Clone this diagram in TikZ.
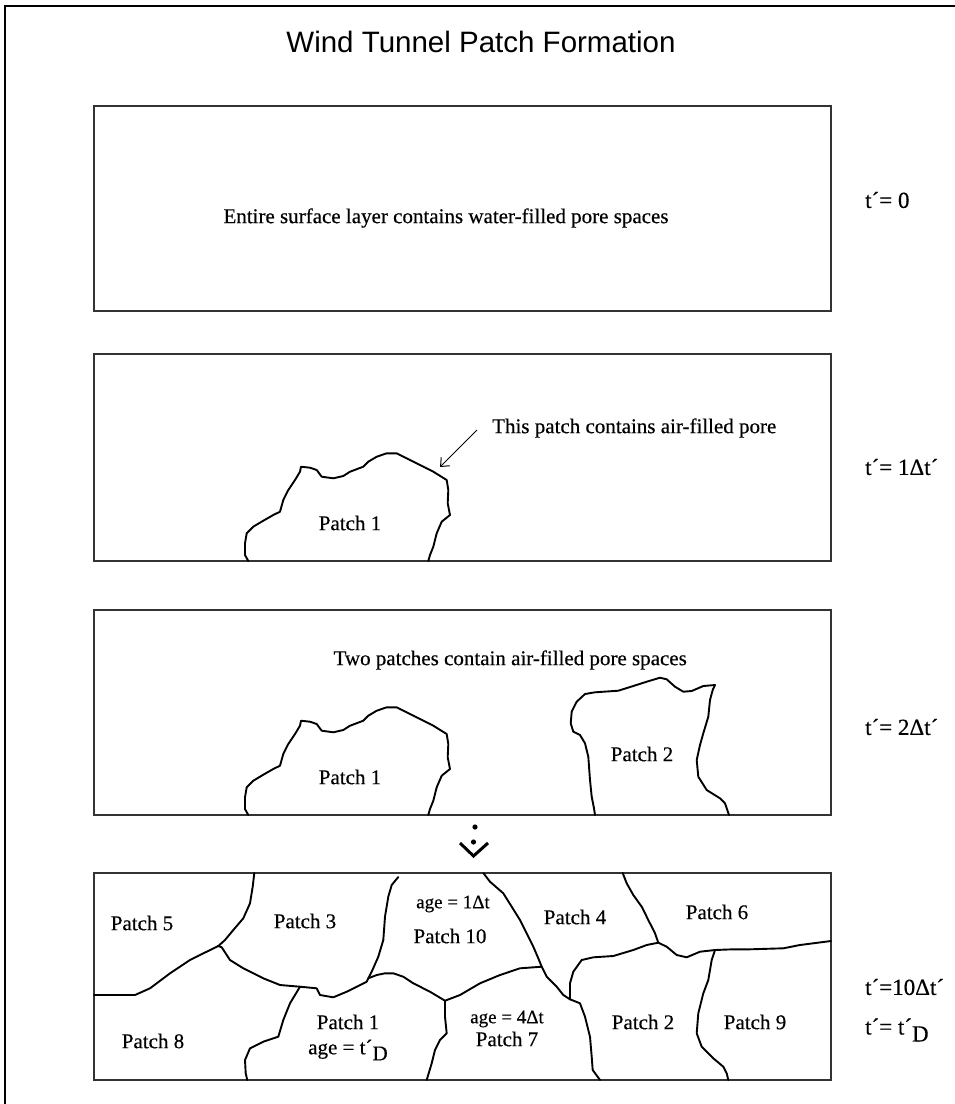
\documentclass[tikz,border=0pt]{standalone}
\usepackage{fontspec}
\setmainfont{Liberation Serif}[FakeBold=0.4]
\newfontfamily\titlefont{Liberation Sans}
\usetikzlibrary{arrows.meta}
\begin{document}
\begin{tikzpicture}[x=1pt,y=-1pt,
  panel/.style={draw=black!80, line width=1.8pt},
  edge/.style={draw=black, line width=1.9pt, line join=round, line cap=round},
  lbl/.style={font=\fontsize{21}{23}\selectfont, inner sep=0pt},
  tlbl/.style={font=\fontsize{23}{26}\selectfont, anchor=west, inner sep=0pt},
]
\useasboundingbox (0,0) rectangle (955,1104);
\draw[line width=2.5pt] (5,1104) -- (5,6) -- (955,6);
\node[font=\titlefont\fontsize{29.5}{32}\selectfont, inner sep=0pt] (title) at (481,42) {Wind Tunnel Patch Formation};

% panels
\draw[panel] (94,106) rectangle (831,311);
\draw[panel] (94,354) rectangle (831,561);
\draw[panel] (94,610) rectangle (831,815);
\draw[panel] (94,873) rectangle (831,1080);

% panel 1
\node[lbl] (p1text) at (446,218) {Entire surface layer contains water-filled pore spaces};
\node[tlbl] (t0) at (865,200) {t´= 0};

% panel 2
\draw[edge] (248.3,561) -- (245,555) -- (245,543.3) -- (246.7,533.3) -- (253.3,526.7) -- (263.3,520.7) -- (273.3,515) -- (280,511.7) -- (283.3,500) -- (288.3,490) -- (295,480) -- (300,471.7) -- (301,466.7) -- (310,467.7) -- (316.7,470) -- (321.7,476.7) -- (333.3,478.3) -- (343.3,476) -- (350,471.7) -- (363.3,466.7) -- (368.3,461.7) -- (376.7,456.7) -- (386.7,453.3) -- (396.7,453.3) -- (406.7,458.3) -- (420,465) -- (433.3,471.7) -- (446.7,480) -- (448.3,490) -- (447.7,503.3) -- (450,515) -- (441.7,521.7) -- (436.7,533.3) -- (433.3,546.7) -- (430,555) -- (428.3,561);
\node[lbl] (p2patch1) at (350,523) {Patch 1};
\node[lbl, anchor=west] (p2note) at (492,428) {This patch contains air-filled pore};
\coordinate (arrtail) at (477,430);
\coordinate (arrhead) at (440,467);
\draw[line width=1pt, -{Straight Barb[length=7pt,width=12pt]}] (arrtail) -- (arrhead);
\node[tlbl] (t1) at (865,467) {t´= 1Δt´};

% panel 3
\begin{scope}[shift={(0,254)}]
\draw[edge] (248.3,561) -- (245,555) -- (245,543.3) -- (246.7,533.3) -- (253.3,526.7) -- (263.3,520.7) -- (273.3,515) -- (280,511.7) -- (283.3,500) -- (288.3,490) -- (295,480) -- (300,471.7) -- (301,466.7) -- (310,467.7) -- (316.7,470) -- (321.7,476.7) -- (333.3,478.3) -- (343.3,476) -- (350,471.7) -- (363.3,466.7) -- (368.3,461.7) -- (376.7,456.7) -- (386.7,453.3) -- (396.7,453.3) -- (406.7,458.3) -- (420,465) -- (433.3,471.7) -- (446.7,480) -- (448.3,490) -- (447.7,503.3) -- (450,515) -- (441.7,521.7) -- (436.7,533.3) -- (433.3,546.7) -- (430,555) -- (428.3,561);
\node[lbl] (p3patch1) at (350,523) {Patch 1};
\end{scope}
\draw[edge] (595,815) -- (594,808.3) -- (591.7,796.7) -- (590,780) -- (588.3,756.7) -- (585,743.3) -- (580,735) -- (573.3,731.7) -- (570.7,723.3) -- (571.7,711.7) -- (576.7,701.7) -- (585,694) -- (595,692.3) -- (618.3,690.7) -- (633.3,686) -- (646.7,681.7) -- (660,677.7) -- (666.7,679.3) -- (675,686.7) -- (683.3,691.7) -- (691.7,691) -- (703.3,686) -- (715,685) -- (712.7,690) -- (710,700) -- (708.3,716.7) -- (703.3,733.3) -- (700,745) -- (696.7,760) -- (698.3,776.7) -- (706.7,790) -- (720,798.3) -- (725,803.3) -- (727.3,810) -- (729,815);
\node[lbl] (p3patch2) at (642,754) {Patch 2};
\node[lbl, anchor=east] (p3note) at (687,660) {Two patches contain air-filled pore spaces};
\node[tlbl] (t2) at (865,727) {t´= 2Δt´};

% down symbol
\fill (475,827) circle (2.6pt);
\fill (473.5,842) circle (2.6pt);
\draw[line width=3pt] (460,843) -- (473.5,856) -- (488,843);

% panel 4
\draw[edge] (94,995) -- (110,995) -- (135,995) -- (150,988.3) -- (170,973.3) -- (190,960) -- (206.7,951.7) -- (218.3,946);
\draw[edge] (218.3,946) -- (225,940) -- (233.3,930) -- (243.3,918.3) -- (250,903.3) -- (252.7,886.7) -- (254.3,873);
\draw[edge] (218.3,946) -- (221.7,947.3) -- (230,960) -- (243.3,968.3) -- (263.3,978.3) -- (280,985) -- (300,986.7) -- (316.7,988.3) -- (320,995) -- (333.3,997.3) -- (346.7,991.7) -- (356.7,986.7) -- (366.7,981.7) -- (368.3,978.3) -- (376.7,975) -- (385,973.3) -- (393.3,973.3) -- (403.3,976.7) -- (413.3,983.3) -- (430,991.7) -- (445,1000.7);
\draw[edge] (398.3,877) -- (391.7,885) -- (388.3,896.7) -- (385,916.7) -- (383.3,940) -- (378.3,956.7) -- (371.7,971.7) -- (368.3,978.3);
\draw[edge] (300,986.7) -- (290,1003.3) -- (283.3,1020) -- (278.3,1036.7) -- (263.3,1041.7) -- (250,1048.3) -- (245,1060) -- (245.7,1073.3) -- (247.3,1080);
\draw[edge] (445,1000.7) -- (445,1016.7) -- (446.7,1033.3) -- (440,1040) -- (435,1050) -- (431.7,1063.3) -- (426.7,1080);
\draw[edge] (445,1000.7) -- (460,995) -- (480,983.3) -- (500,975) -- (520,968.3) -- (541.7,966.7);
\draw[edge] (483.3,873) -- (490,881.7) -- (503.3,893.3) -- (511.7,906.7) -- (520,920) -- (526.7,933.3) -- (533.3,946.7) -- (538.3,958.3) -- (541.7,966.7) -- (546.7,976.7) -- (556.7,986.7) -- (563.3,995) -- (570,999.3);
\draw[edge] (570,999.3) -- (580,1003.3) -- (585,1016.7) -- (590,1036.7) -- (591.7,1056.7) -- (592.7,1070) -- (600,1080);
\draw[edge] (570,999.3) -- (570,983.3) -- (573.3,971.7) -- (581.7,960) -- (593.3,957.3) -- (613.3,956) -- (633.3,950) -- (646.7,945) -- (658.3,942.7);
\draw[edge] (622.7,873) -- (626.7,883.3) -- (633.3,895) -- (641.7,906.7) -- (648.3,920) -- (655,933.3) -- (658.3,942.7);
\draw[edge] (658.3,942.7) -- (666.7,946.7) -- (676.7,955) -- (686.7,957.3) -- (700,951.7) -- (715,950) -- (733.3,949.3) -- (750,949.3) -- (783.3,948.3) -- (800,945) -- (831,941);
\draw[edge] (715,950) -- (711.7,960) -- (708.3,980) -- (703.3,993.3) -- (698.3,1013.3) -- (696.7,1033.3) -- (701.7,1046.7) -- (713.3,1058.3) -- (723.3,1066.7) -- (726.7,1073.3) -- (728.3,1080);

\node[lbl] (pa5) at (142,923) {Patch 5};
\node[lbl] (pa3) at (305,921) {Patch 3};
\node[lbl] (pa8) at (153,1041) {Patch 8};
\node[lbl] (pa1) at (348,1022) {Patch 1};
\node[lbl] (age1) at (348,1050) {age = t´\raisebox{-6pt}{D}};
\node[lbl, font=\fontsize{19}{21}\selectfont] (age10) at (453,904) {age = 1Δt};
\node[lbl] (pa10) at (450,936) {Patch 10};
\node[lbl] (pa4) at (575,917) {Patch 4};
\node[lbl] (pa6) at (717,912) {Patch 6};
\node[lbl, font=\fontsize{19}{21}\selectfont] (age7) at (507,1019) {age = 4Δt};
\node[lbl] (pa7) at (507,1039) {Patch 7};
\node[lbl] (pa2) at (643,1022) {Patch 2};
\node[lbl] (pa9) at (755,1022) {Patch 9};
\node[tlbl] (t10) at (865,987) {t´=10Δt´};
\node[tlbl] (tD) at (865,1030) {t´= t´\raisebox{-7pt}{D}};
\end{tikzpicture}
\end{document}
